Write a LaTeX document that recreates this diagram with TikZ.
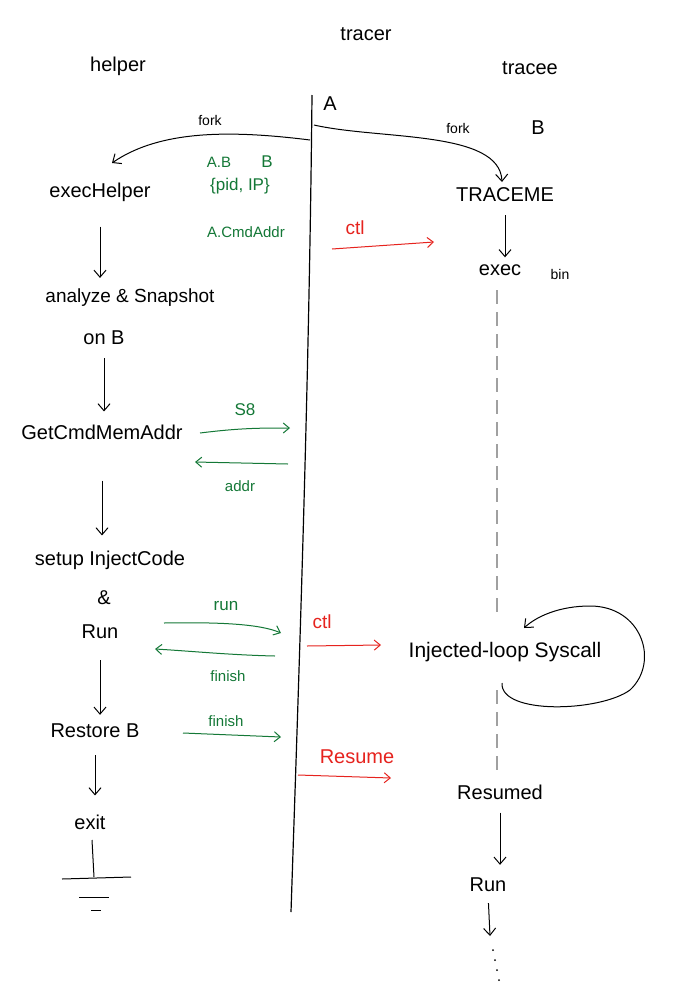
\documentclass[tikz,border=0pt]{standalone}
\usepackage{fontspec}
\setmainfont{Liberation Sans}
\usetikzlibrary{arrows.meta}
\definecolor{pgreen}{RGB}{20,120,55}
\definecolor{pred}{RGB}{230,35,30}
\definecolor{dgray}{RGB}{160,160,160}
\tikzset{
  big/.style={font=\fontsize{20}{23}\selectfont, inner sep=1pt},
  small/.style={font=\fontsize{14}{16}\selectfont, inner sep=1pt},
  gtext/.style={text=pgreen, font=\fontsize{15}{17}\selectfont, inner sep=1pt},
  rtext/.style={text=pred, font=\fontsize{19}{22}\selectfont, inner sep=1pt},
  flow/.style={draw=black, line width=1pt, -{Straight Barb[length=7pt,width=12pt]}},
  garrow/.style={draw=pgreen, line width=1pt, -{Straight Barb[length=6pt,width=10pt]}},
  rarrow/.style={draw=pred, line width=1pt, -{Straight Barb[length=6pt,width=10pt]}},
  life/.style={draw=black, line width=1.2pt},
  ground/.style={draw=black, line width=1pt},
  dashlife/.style={draw=dgray, line width=1.2pt, dash pattern=on 14pt off 8pt}
}
\begin{document}
\begin{tikzpicture}[x=1pt,y=-1pt]
\useasboundingbox (0,0) rectangle (684,994);
\fill[white] (0,0) rectangle (684,994);

% headers
\node[big] (helperT) at (118,66) {helper};
\node[big] (tracerT) at (366,34) {tracer};
\node[big] (traceeT) at (530,68) {tracee};
\node[big] (Alab) at (330,104) {A};
\node[big] (Blab) at (538,128) {B};

% tracer lifeline
\coordinate (ltop) at (312,95);
\coordinate (lbot) at (291,912);
\draw[life] (ltop) .. controls (309,400) and (298,700) .. (lbot);
\coordinate (forkL) at (310,140);
\coordinate (forkR) at (314,125);

% helper column
\node[big] (exech) at (100,192) {execHelper};
\node[big,font=\fontsize{19}{22}\selectfont] (analyze) at (130,298) {analyze \& Snapshot};
\node[big] (onB) at (104,338) {on B};
\node[big] (getcmd) at (102,432) {GetCmdMemAddr};
\node[big] (setup) at (110,560) {setup InjectCode};
\node[big] (amp) at (104,598) {\&};
\node[big] (runL) at (100,632) {Run};
\node[big] (restore) at (95,731) {Restore B};
\node[big] (exitn) at (90,822) {exit};

% fork curves
\draw[flow] (forkL) .. controls (230,130) and (160,130) .. (112,163);
\node[small] (fork1) at (210,120) {fork};
\draw[flow] (forkR) .. controls (380,140) and (500,130) .. (502,182);
\node[small] (fork2) at (458,128) {fork};

% green info
\node[gtext] (ab) at (219,162) {A.B};
\node[gtext,font=\fontsize{17}{19}\selectfont] (bb) at (267,162) {B};
\node[gtext,font=\fontsize{17}{19}\selectfont] (pidip) at (240,186) {\{pid, IP\}};
\node[gtext] (cmdaddr) at (246,232) {A.CmdAddr};

% tracee column
\node[big] (traceme) at (505,195) {TRACEME};
\node[big] (exec) at (500,270) {exec};
\node[small] (bin) at (560,274) {bin};
\draw[flow, shorten <=12pt, shorten >=6pt] (traceme.south) -- (traceme.south |- exec.north);
\draw[dashlife] (497,290) -- (497,615);
\draw[dashlife] (497,690) -- (497,772);

% red ctl 1
\node[rtext] (ctl1) at (355,228) {ctl};
\coordinate (c1s) at (332,249);
\coordinate (c1e) at (434,242);
\draw[rarrow] (c1s) -- (c1e);

% helper flow arrows (short)
\draw[flow, shorten <=24pt, shorten >=10pt] (exech.south) -- (exech.south |- analyze.north);
\draw[flow, shorten <=12pt, shorten >=12pt] (onB.south) -- (onB.south |- getcmd.north);
\draw[flow, shorten <=40pt, shorten >=14pt] (getcmd.south) -- (getcmd.south |- setup.north);
\draw[flow, shorten <=20pt, shorten >=8pt] (runL.south) -- (runL.south |- restore.north);
\draw[flow, shorten <=16pt, shorten >=18pt] (restore.south) -- (restore.south |- exitn.north);

% S8 / addr
\coordinate (s8s) at (200,433);
\coordinate (s8e) at (290,428);
\draw[garrow] (s8s) .. controls (240,428) and (260,428) .. (s8e);
\node[gtext,font=\fontsize{17}{19}\selectfont] (s8) at (245,410) {S8};
\coordinate (ads) at (288,464);
\coordinate (ade) at (195,462);
\draw[garrow] (ads) -- (ade);
\node[gtext] (addr) at (240,486) {addr};

% run / finish
\coordinate (rns) at (164,623);
\coordinate (rne) at (281,633);
\draw[garrow] (rns) .. controls (220,622) and (260,624) .. (rne);
\node[gtext,font=\fontsize{17}{19}\selectfont] (runG) at (226,606) {run};
\coordinate (fns) at (275,656);
\coordinate (fne) at (155,649);
\draw[garrow] (fns) .. controls (230,655) and (190,651) .. (fne);
\node[gtext] (fin1) at (228,676) {finish};

% red ctl 2
\node[rtext] (ctl2) at (322,622) {ctl};
\coordinate (c2s) at (307,646);
\coordinate (c2e) at (381,645);
\draw[rarrow] (c2s) -- (c2e);

% injected loop
\node[big,font=\fontsize{21}{24}\selectfont] (inj) at (505,652) {Injected-loop Syscall};
\coordinate (lps) at (502,683);
\coordinate (lpe) at (524,628);
\draw[flow] (lps) .. controls (500,715) and (600,712) .. (630,690)
  .. controls (660,662) and (642,606) .. (590,606)
  .. controls (560,606) and (537,616) .. (lpe);

% restore finish
\node[gtext] (fin2) at (226,721) {finish};
\coordinate (f2s) at (183,733);
\coordinate (f2e) at (281,737);
\draw[garrow] (f2s) -- (f2e);

% Resume
\node[rtext,font=\fontsize{20}{23}\selectfont] (resume) at (357,757) {Resume};
\coordinate (rss) at (298,775);
\coordinate (rse) at (391,778);
\draw[rarrow] (rss) -- (rse);

% tracee end
\node[big] (resumed) at (500,792) {Resumed};
\node[big] (runR) at (488,885) {Run};
\draw[flow, shorten <=12pt, shorten >=12pt] (resumed.south) -- (resumed.south |- runR.north);
\coordinate (dotsTop) at (490,936);
\draw[flow, shorten <=10pt] (runR.south) -- (dotsTop);
\foreach \i/\yy in {0/950,1/960,2/970,3/980} {
  \fill (493+2*\i,\yy) circle (1pt);
}

% ground
\coordinate (gtop) at (92,840);
\coordinate (gbot) at (94,877);
\draw[ground] (gtop) -- (gbot);
\draw[ground] (62,879) -- (131,877);
\draw[ground] (79,897) -- (109,897);
\draw[ground] (91,910) -- (101,910);
\end{tikzpicture}
\end{document}
